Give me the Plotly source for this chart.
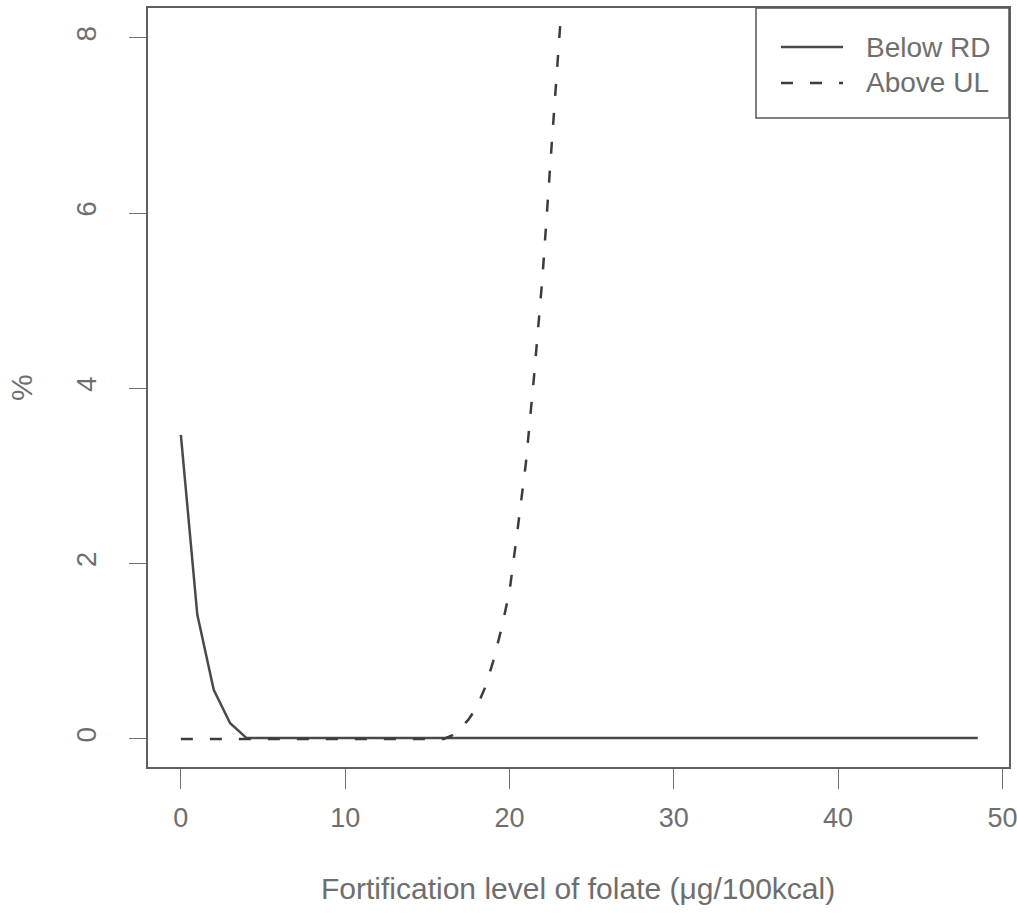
import plotly.graph_objects as go

# Data
below_x = [0, 1, 2, 3, 4, 48.5]
below_y = [3.47, 1.42, 0.56, 0.18, 0.01, 0.01]

above_x = [0, 16.0, 16.5, 17.0, 17.5, 18.0, 18.5, 19.0, 19.5, 20.0, 20.5, 21.0, 21.5, 22.0, 22.5, 23.0, 23.1]
above_y = [0, 0.0, 0.04, 0.12, 0.22, 0.36, 0.58, 0.88, 1.25, 1.68, 2.40, 3.15, 4.15, 5.25, 6.60, 7.95, 8.18]

x_ticks = [0, 10, 20, 30, 40, 50]
y_ticks = [0, 2, 4, 6, 8]

series_names = ["Below RD", "Above UL"]

TEXT = "#6e6e6e"
LINE = "#3c3c3c"
FONT = "Liberation Sans, Arial, sans-serif"

# plot area in pixels
L, R, T, B = 148, 1009, 8, 767
W, H = R - L, B - T

def px(xp):
    return (xp - L) / W

def py(yp):
    return (B - yp) / H

fig = go.Figure()
fig.add_trace(go.Scatter(x=below_x, y=below_y, mode="lines", name=series_names[0],
                         line=dict(color="#4a4a4a", width=2.5), showlegend=False))
fig.add_trace(go.Scatter(x=above_x, y=above_y, mode="lines", name=series_names[1],
                         line=dict(color=LINE, width=2.5, dash="12px,17px"), showlegend=False))

fig.update_layout(
    width=1017, height=916,
    margin=dict(l=L, r=1017 - R, t=T, b=916 - B),
    paper_bgcolor="white", plot_bgcolor="white",
    font=dict(family=FONT, color=TEXT, size=30),
    showlegend=False,
)
fig.update_xaxes(range=[-2.0, 50.4], tickvals=x_ticks, ticktext=[str(v) for v in x_ticks],
                 automargin=False, ticklabeloverflow="allow",
                 showgrid=False, zeroline=False, showline=True, mirror=True,
                 linecolor="#606060", linewidth=1.5, ticks="outside", ticklen=20,
                 tickcolor="#707070", tickwidth=1.2, tickfont=dict(size=27, color=TEXT),
                 ticklabelstandoff=6)
fig.update_yaxes(range=[-0.32, 8.34], tickvals=y_ticks, ticktext=[str(v) for v in y_ticks],
                 automargin=False, ticklabeloverflow="allow",
                 showgrid=False, zeroline=False, showline=True, mirror=True,
                 linecolor="#606060", linewidth=1.5, ticks="outside", ticklen=17,
                 tickcolor="#707070", tickwidth=1.2, tickangle=-90,
                 tickfont=dict(size=28, color=TEXT), ticklabelstandoff=22)

# axis titles
fig.add_annotation(text="Fortification level of folate (\u03bcg/100kcal)", xref="paper", yref="paper",
                   x=px(578), y=py(888), xanchor="center", yanchor="middle", showarrow=False,
                   font=dict(size=30, color=TEXT))
fig.add_annotation(text="%", xref="paper", yref="paper",
                   x=px(22), y=py(388), xanchor="center", yanchor="middle", showarrow=False,
                   textangle=-90, font=dict(size=30, color=TEXT))

# legend box (drawn like R's legend)
fig.add_shape(type="rect", xref="paper", yref="paper", x0=px(756), x1=px(1009), y0=py(118), y1=py(8),
              line=dict(color="#555555", width=1.5), fillcolor="white", layer="above")
for name, ly, style in [(series_names[0], 47, dict(color="#4a4a4a", width=2.5)),
                        (series_names[1], 83, dict(color=LINE, width=2.5, dash="12px,17px"))]:
    fig.add_shape(type="line", xref="paper", yref="paper", x0=px(781), x1=px(843), y0=py(ly), y1=py(ly),
                  line=style, layer="above")
    fig.add_annotation(text=name, xref="paper", yref="paper", x=px(864), y=py(ly),
                       xanchor="left", yanchor="middle", showarrow=False,
                       font=dict(size=28, color=TEXT))

fig.write_html("out.html")
